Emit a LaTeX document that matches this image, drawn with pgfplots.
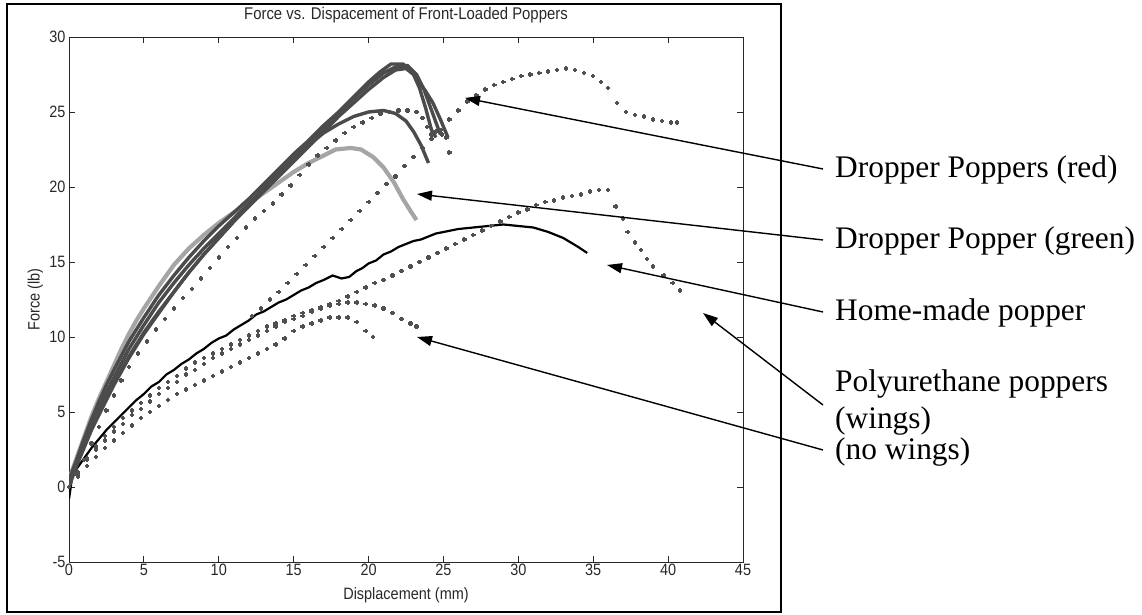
\documentclass[border=0pt]{standalone}
\usepackage{fontspec}
\setmainfont{Liberation Serif}
\newfontfamily\matfont[FakeStretch=0.88]{Liberation Sans}
\usepackage{pgfplots}
\pgfplotsset{compat=1.18}
\usetikzlibrary{arrows.meta}
\definecolor{dotc}{RGB}{80,80,80}
\definecolor{redc}{RGB}{75,75,75}
\definecolor{greenc}{RGB}{165,165,165}
\definecolor{axc}{RGB}{40,40,40}

\begin{document}
\begin{tikzpicture}[x=1bp,y=1bp]
\path[use as bounding box] (0,0) rectangle (1142,615);
\draw[line width=2bp] (7,2.5) rectangle (781,610.5);
\begin{axis}[
  at={(69bp,53bp)}, anchor=south west,
  scale only axis, width=674bp, height=525bp,
  xmin=0, xmax=45, ymin=-5, ymax=30,
  xtick={0,5,...,45}, ytick={-5,0,...,30},
  tick align=inside, major tick length=6bp,
  axis line style={line width=0.8bp, axc},
  every tick/.style={line width=0.8bp, axc},
  /pgf/number format/assume math mode=true,
  tick label style={font=\matfont\fontsize{16.5}{18}\selectfont, text=axc},
  xticklabel style={yshift=1bp},
  title={Force vs. Dispacement of Front-Loaded Poppers},
  title style={font=\matfont\fontsize{17}{19}\selectfont, text=axc, at={(axis description cs:0.5,1)}, anchor=center, yshift=16bp},
  xlabel={Displacement (mm)},
  xlabel style={font=\matfont\fontsize{16.5}{18}\selectfont, text=axc, at={(axis description cs:0.5,-0.064)}, anchor=center},
  ylabel={Force (lb)},
  ylabel style={font=\matfont\fontsize{16.5}{18}\selectfont, text=axc, at={(axis description cs:-0.05,0.5)}, anchor=center},
  dotted series/.style={only marks, mark=+, mark size=2.2bp, mark options={line width=2.1bp}, color=dotc},
]
% Polyurethane (wings) -- peak ~19.8
\addplot[dotted series] coordinates {
(0.0,0.0) (0.6,0.9) (1.2,1.8) (1.8,2.5) (2.4,3.1) (3.0,3.7) (3.6,4.2) (4.2,4.8) (4.8,5.2) (5.4,5.7) (6.0,6.2) (6.6,6.6) (7.2,7.0) (7.8,7.5) (8.4,7.8) (9.0,8.2) (9.6,8.6) (10.2,8.9) (10.8,9.2) (11.4,9.5) (12.0,9.8) (12.6,10.1) (13.2,10.4) (13.8,10.7) (14.4,11.0) (15.0,11.2) (15.6,11.4) (16.2,11.7) (16.8,11.9) (17.4,12.2) (18.0,12.4) (18.6,12.7) (19.2,13.0) (19.8,13.3) (20.4,13.6) (21.0,13.8) (21.6,14.1) (22.2,14.4) (22.8,14.7) (23.4,15.0) (24.0,15.3) (24.6,15.6) (25.2,15.9) (25.8,16.2) (26.4,16.5) (27.0,16.8) (27.6,17.1) (28.2,17.4) (28.8,17.7) (29.4,18.0) (30.0,18.3) (30.6,18.5) (31.2,18.8) (31.8,19.0) (32.4,19.1) (33.0,19.3) (33.6,19.4) (34.2,19.5) (34.8,19.7) (35.4,19.8) (36.0,19.8) (36.5,18.7) (37.0,17.9) (37.3,17.0) (37.8,16.3) (38.2,15.8) (38.6,15.2) (39.0,14.7) (39.7,14.1) (40.3,13.6) (40.8,13.1)
};
% Polyurethane (no wings) A -- peak ~12.3
\addplot[dotted series] coordinates {
(0.0,0.0) (0.6,1.0) (1.2,1.9) (1.8,2.7) (2.4,3.4) (3.0,4.0) (3.6,4.6) (4.2,5.1) (4.8,5.6) (5.4,6.1) (6.0,6.6) (6.6,7.0) (7.2,7.4) (7.8,7.9) (8.4,8.3) (9.0,8.6) (9.6,8.9) (10.2,9.2) (10.8,9.5) (11.4,9.8) (12.0,10.1) (12.6,10.4) (13.2,10.7) (13.8,10.9) (14.4,11.1) (15.0,11.4) (15.6,11.6) (16.2,11.8) (16.8,12.0) (17.4,12.1) (18.0,12.2) (18.6,12.3) (19.2,12.3) (19.8,12.2) (20.4,12.1) (21.0,11.9) (21.6,11.6) (22.2,11.2) (22.8,10.9) (23.2,10.7)
};
% Polyurethane (no wings) B -- peak ~11.3
\addplot[dotted series] coordinates {
(0.0,0.0) (0.6,0.7) (1.2,1.4) (1.8,2.0) (2.4,2.6) (3.0,3.1) (3.6,3.6) (4.2,4.1) (4.8,4.6) (5.4,5.0) (6.0,5.4) (6.6,5.8) (7.2,6.2) (7.8,6.5) (8.4,6.8) (9.0,7.1) (9.6,7.4) (10.2,7.7) (10.8,8.0) (11.4,8.3) (12.0,8.6) (12.6,8.9) (13.2,9.2) (13.8,9.5) (14.4,9.9) (15.0,10.4) (15.6,10.7) (16.2,10.9) (16.8,11.1) (17.4,11.3) (18.0,11.3) (18.6,11.3) (19.2,11.0) (19.8,10.4) (20.3,10.0)
};
% Dotted series with plateau ~25
\addplot[dotted series] coordinates {
(0.0,0.0) (0.5,0.9) (1.0,1.8) (1.5,2.9) (2.0,4.0) (2.5,5.1) (3.0,6.1) (3.5,7.1) (4.0,8.0) (4.6,8.9) (5.2,9.7) (5.8,10.5) (6.4,11.2) (7.0,11.9) (7.6,12.6) (8.2,13.2) (8.8,13.9) (9.4,14.6) (10.0,15.3) (10.6,16.0) (11.2,16.6) (11.8,17.3) (12.4,17.9) (13.0,18.4) (13.6,18.9) (14.2,19.5) (14.8,20.1) (15.4,20.8) (16.0,21.5) (16.6,22.1) (17.2,22.6) (17.8,23.1) (18.4,23.6) (19.0,24.0) (19.6,24.3) (20.2,24.6) (20.8,24.9) (21.4,25.0) (22.0,25.1) (22.6,25.1) (23.2,25.0) (23.6,24.6) (23.9,24.0) (24.2,23.5) (24.5,23.7) (24.9,23.5) (25.2,23.3) (25.4,22.3)
};
% Dotted series with peak ~27.9
\addplot[dotted series] coordinates {
(12.2,11.4) (12.8,11.9) (13.4,12.5) (14.0,13.0) (14.6,13.6) (15.2,14.2) (15.8,14.8) (16.4,15.4) (17.0,16.0) (17.6,16.6) (18.2,17.2) (18.8,17.8) (19.4,18.4) (20.0,19.0) (20.6,19.6) (21.2,20.2) (21.8,20.7) (22.4,21.4) (23.0,22.0) (23.6,22.6) (24.2,23.2) (24.8,23.8) (25.4,24.5) (26.0,25.1) (26.6,25.7) (27.2,26.1) (27.8,26.5) (28.4,26.8) (29.0,27.0) (29.6,27.2) (30.2,27.4) (30.8,27.5) (31.4,27.6) (32.0,27.7) (32.6,27.8) (33.2,27.9) (33.8,27.8) (34.4,27.6) (35.0,27.4) (35.5,27.0) (36.0,26.6) (36.6,25.6) (37.2,25.0) (37.8,24.8) (38.4,24.7) (39.0,24.5) (39.6,24.4) (40.2,24.3) (40.6,24.3)
};
% Home-made popper (black, dense)
\addplot[black, line width=2.2bp, line join=round] coordinates {
(0,-0.8) (0.2,0.6) (0.5,1.2) (1,1.9) (1.5,2.6) (2,3.2) (2.5,3.8) (3,4.3) (3.5,4.8) (4,5.3) (4.5,5.8) (5,6.2) (5.5,6.7) (6,7.0) (6.5,7.5) (7,7.8) (7.5,8.2) (8,8.5) (8.5,8.9) (9,9.2) (9.5,9.6) (10,9.9) (10.5,10.1) (11,10.5) (11.5,10.8) (12,11.1) (12.5,11.5) (13,11.7) (13.5,12.0) (14,12.3) (14.5,12.5) (15,12.8) (15.5,13.1) (16,13.3) (16.5,13.6) (17,13.8) (17.6,14.1) (18.2,13.9) (18.7,14.0) (19.2,14.4) (19.6,14.6) (20,14.9) (20.5,15.1) (21,15.5) (21.5,15.7) (22,16.0) (22.5,16.2) (23,16.4) (23.5,16.5) (24,16.7) (24.5,16.9) (25,17.0) (25.5,17.1) (26,17.2) (27,17.3) (28,17.4) (29,17.5) (30,17.4) (31,17.3) (32,17.0) (33,16.6) (33.5,16.3) (34,16.0) (34.6,15.6)
};
% Dropper Popper (green)
\addplot[greenc, line width=4.2bp, line join=round] coordinates {
(0,0.5) (0.5,1.9) (1,3.3) (1.5,4.7) (2,5.9) (2.5,7.0) (3,8.1) (3.5,9.2) (4,10.2) (4.5,11.1) (5,11.9) (6,13.4) (7,14.8) (8,15.9) (9,16.8) (10,17.6) (11,18.3) (12,18.9) (13,19.6) (14,20.3) (15,21.0) (16,21.6) (17,22.1) (17.8,22.5) (18.8,22.6) (19.5,22.5) (20.3,22.0) (21,21.3) (21.7,20.3) (22.3,19.2) (22.8,18.4) (23.2,17.8)
};
% Dropper Poppers (red) -- four runs
\addplot[redc, line width=3.4bp, line join=round] coordinates {
(0,0.4) (0.5,1.8) (1,3.2) (1.5,4.5) (2,5.7) (2.5,6.8) (3,7.8) (4,9.7) (5,11.3) (6,12.8) (7,14.1) (8,15.3) (9,16.4) (10,17.4) (11,18.3) (12,19.2) (13,20.2) (14,21.2) (15,22.2) (16,23.1) (17,24.1) (18,25.0) (19,26.0) (20,27.0) (20.8,27.7) (21.5,28.2) (22.3,28.2) (22.8,27.8) (23.3,27.1) (23.8,26.4) (24.3,25.6) (24.8,24.5) (25.3,23.3)
};
\addplot[redc, line width=3.4bp, line join=round] coordinates {
(0,0.5) (0.5,1.7) (1,3.0) (1.5,4.2) (2,5.3) (3,7.3) (4,9.2) (5,10.8) (6,12.3) (7,13.6) (8,14.8) (9,15.9) (10,16.9) (11,17.9) (12,18.9) (13,19.9) (14,20.9) (15,21.9) (16,22.9) (17,23.9) (18,24.9) (19,25.9) (20,26.8) (21,27.6) (21.8,28.0) (22.6,28.1) (23.2,27.5) (23.7,26.5) (24.1,25.4) (24.5,24.3) (24.8,23.5)
};
\addplot[redc, line width=3.4bp, line join=round] coordinates {
(0,0.0) (0.5,1.4) (1,2.6) (1.5,3.8) (2,4.8) (3,6.8) (4,8.6) (5,10.2) (6,11.6) (7,13.0) (8,14.3) (9,15.5) (10,16.6) (11,17.7) (12,18.7) (13,19.7) (14,20.7) (15,21.7) (16,22.7) (17,23.7) (18,24.7) (19,25.6) (20,26.5) (21,27.3) (21.8,27.8) (22.5,27.9) (23.0,27.5) (23.4,26.6) (23.8,25.3) (24.2,23.8) (24.5,23.3)
};
\addplot[redc, line width=3.4bp, line join=round] coordinates {
(0,0.3) (0.5,1.5) (1,2.7) (1.5,3.9) (2,4.9) (3,6.9) (4,8.7) (5,10.3) (6,11.7) (7,13.0) (8,14.3) (9,15.5) (10,16.6) (11,17.7) (12,18.8) (13,19.9) (14,21.0) (15,21.9) (16,22.8) (17,23.6) (18,24.2) (19,24.7) (20,25.0) (21,25.1) (21.8,24.9) (22.5,24.4) (23.0,23.7) (23.5,22.8) (24.0,21.6)
};
\end{axis}
% annotations
\begin{scope}[line width=1.4bp, -{Triangle[length=15bp,width=10bp]}]
\draw (823,446) -- (465,517);
\draw (823,375) -- (417,421);
\draw (823,303) -- (607,350);
\draw (823,210) -- (703,302);
\draw (823,165) -- (417,278);
\end{scope}
\begin{scope}[every node/.style={anchor=base west, inner sep=0pt, font=\fontsize{31.5}{34}\selectfont}]
\node at (835,437) {Dropper Poppers (red)};
\node at (835,366) {Dropper Popper (green)};
\node at (835,294) {Home-made popper};
\node at (835,223) {Polyurethane poppers};
\node at (835,186) {(wings)};
\node at (835,155) {(no wings)};
\end{scope}
\end{tikzpicture}
\end{document}
